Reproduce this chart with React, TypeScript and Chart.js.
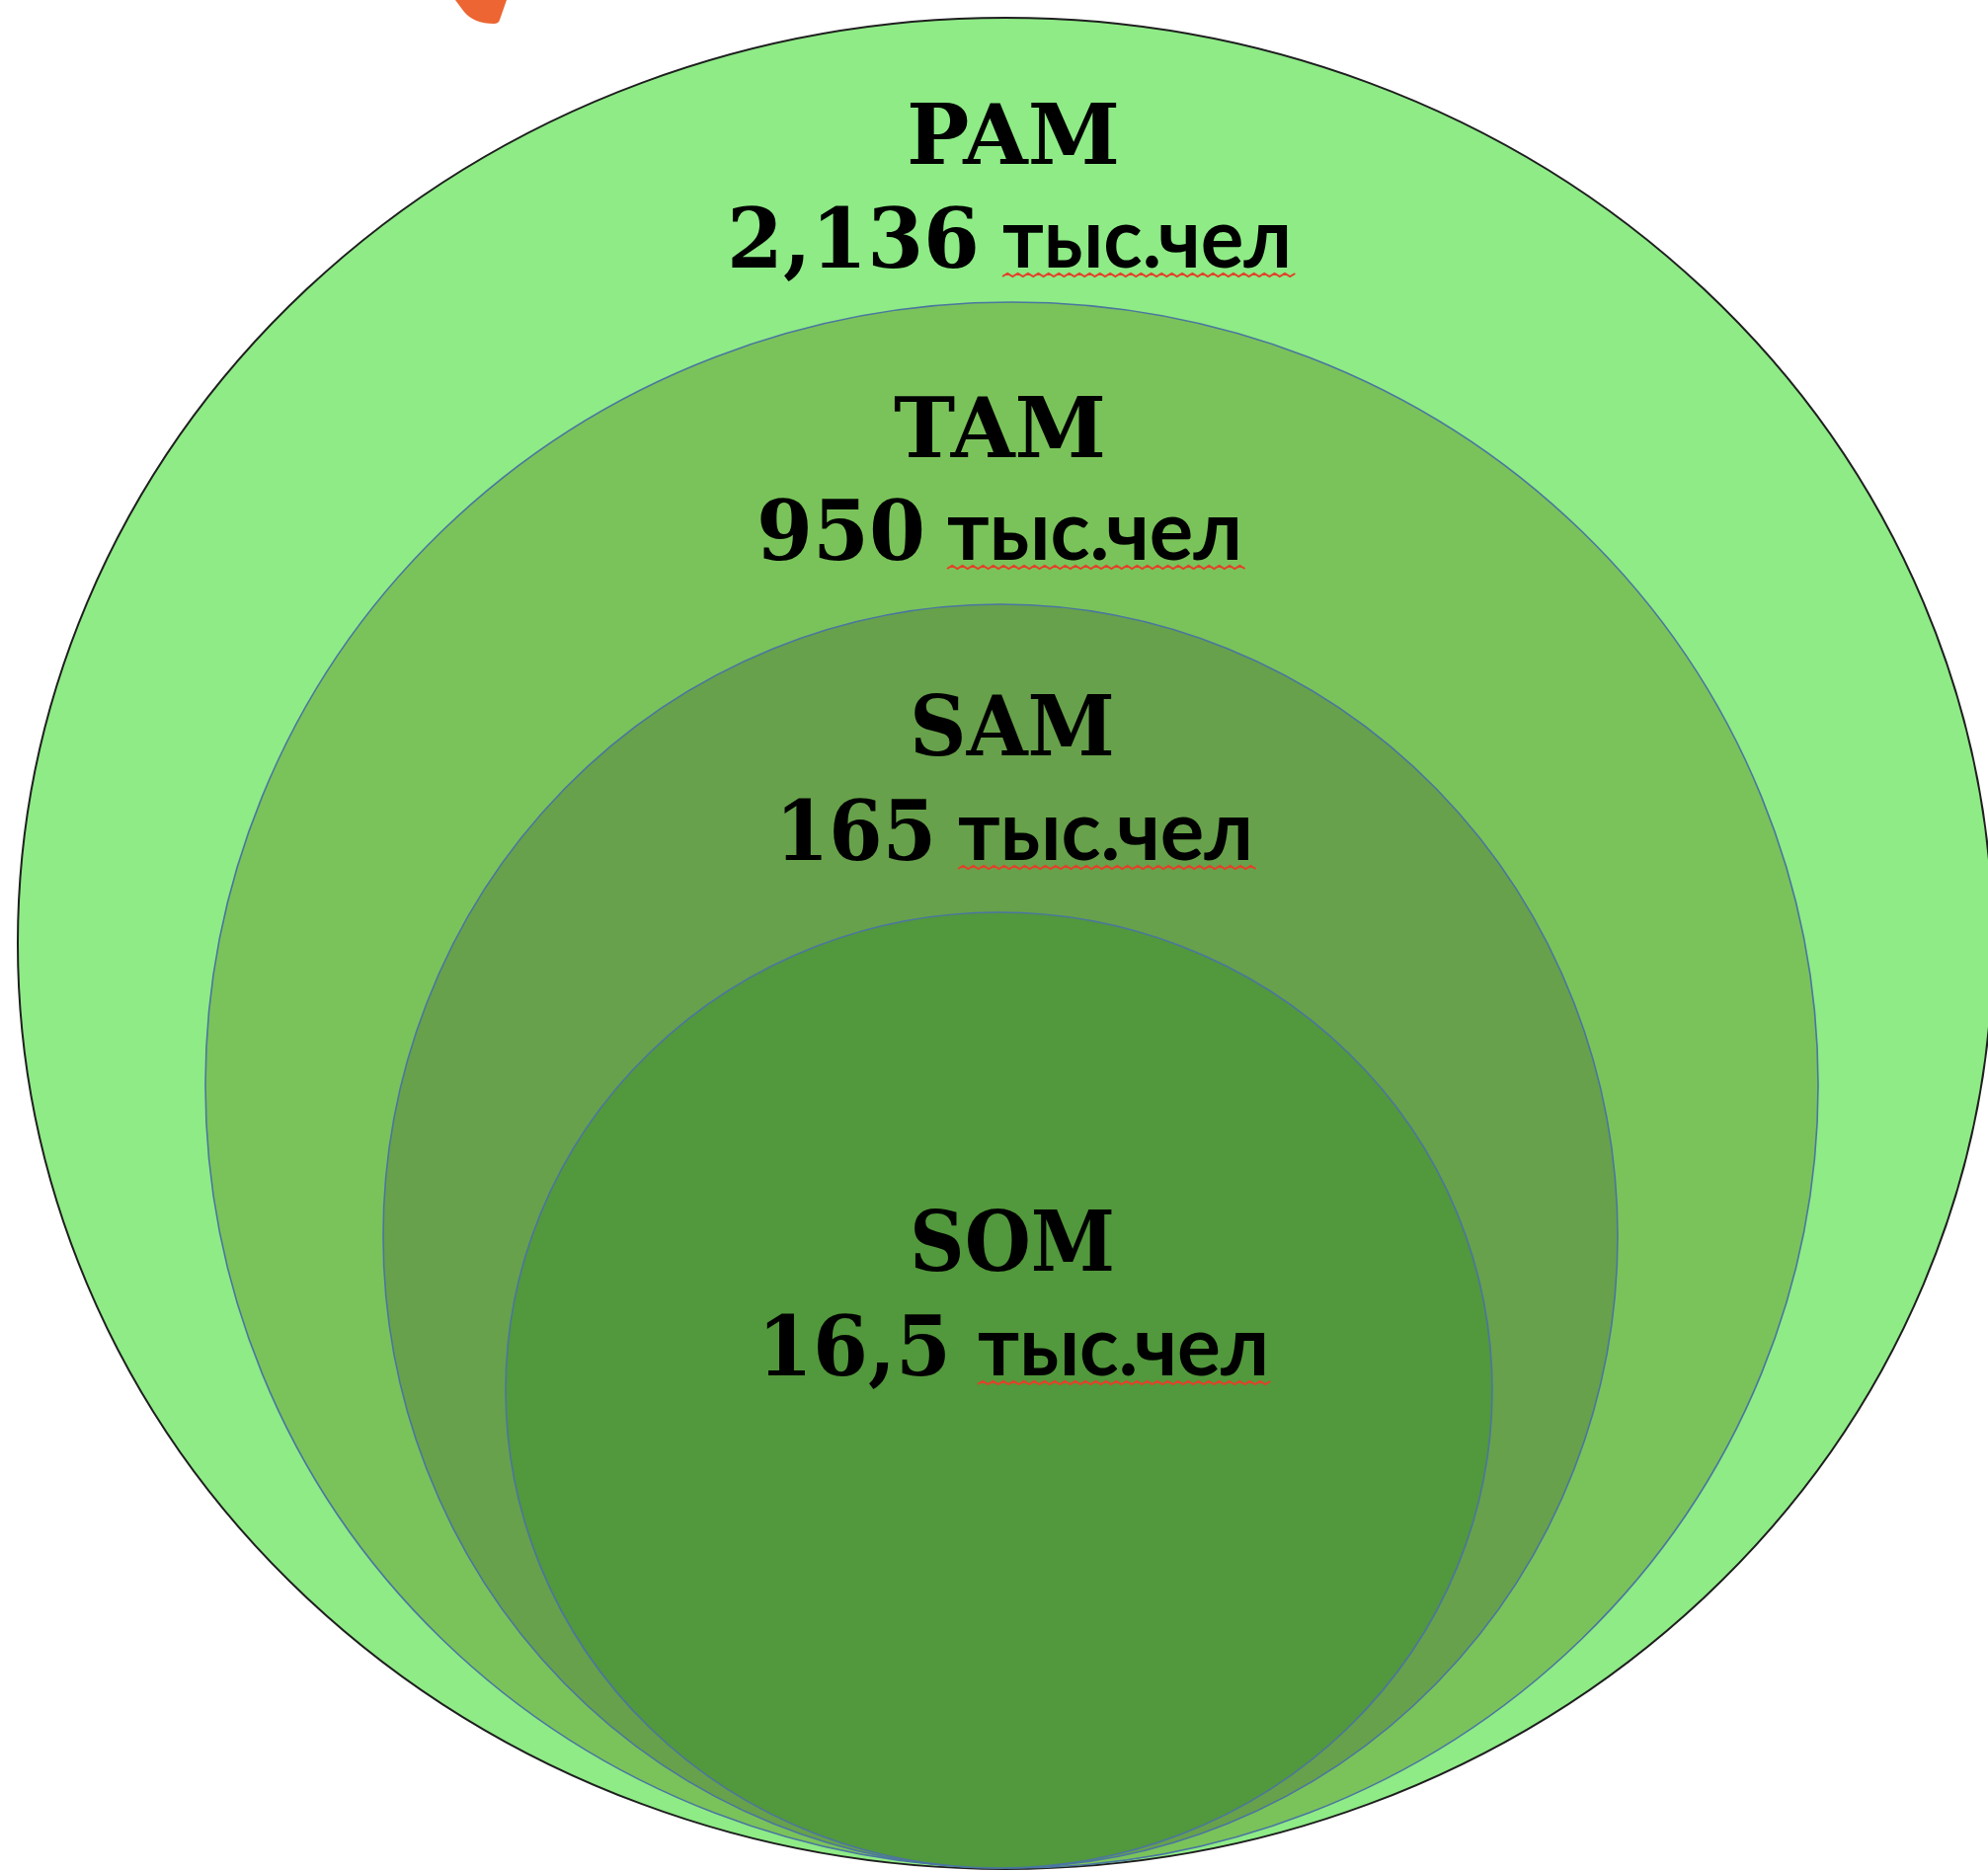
import React, { useEffect, useRef } from "react";
import { Chart, registerables } from "chart.js";

Chart.register(...registerables);

// ---- data ----
const categories = ["PAM", "TAM", "SAM", "SOM"];
const marketValues = ["2,136", "950", "165", "16,5"];
const unitLabel = "тыс.чел";
// nested circle extents, in diagram units (0..2013 across, 0..1895 down)
const circleLeft = [18, 208, 388, 512];
const circleRight = [2018, 1841, 1638, 1511];
const circleTop = [18, 306, 612, 924];
const circleBottom = [1893, 1892, 1892, 1892];

// ---- layout / style (not data) ----
const W = 2013;
const H = 1895;
const fills = ["#8eeb86", "#7ac35a", "#67a14b", "#52983c"];
const strokes = ["#1f1f1f", "#4b76a0", "#4b76a0", "#4b76a0"];
const strokeWidths = [2, 1.6, 1.6, 1.6];
// [left, right, baseline] in diagram units
const titleBoxes = [
  [918, 1134, 166],
  [905, 1120, 463],
  [921, 1129, 765],
  [921, 1129, 1287],
];
const numberBoxes = [
  [736, 992, 271],
  [766, 937, 567],
  [785, 948, 871],
  [767, 963, 1393],
];
const unitBoxes = [
  [1015, 1308, 271],
  [959, 1258, 567],
  [970, 1269, 871],
  [990, 1285, 1393],
];

const serifFont = "bold 84px 'DejaVu Serif'";
const unitFont = "bold 84px Lato";

function drawFitted(
  ctx: CanvasRenderingContext2D,
  text: string,
  font: string,
  x0: number,
  x1: number,
  baseline: number
) {
  ctx.save();
  ctx.font = font;
  ctx.textAlign = "left";
  ctx.textBaseline = "alphabetic";
  const w = ctx.measureText(text).width;
  const sx = (x1 - x0) / w;
  ctx.translate(x0, baseline);
  ctx.scale(sx, 1);
  ctx.fillStyle = "#000";
  ctx.fillText(text, 0, 0);
  ctx.restore();
}

function drawWavy(ctx: CanvasRenderingContext2D, x0: number, x1: number, y: number) {
  ctx.save();
  ctx.strokeStyle = "#e4402a";
  ctx.lineWidth = 2;
  ctx.beginPath();
  const half = 5.2;
  let up = true;
  ctx.moveTo(x0, y);
  for (let x = x0 + half; x <= x1; x += half) {
    ctx.lineTo(x, up ? y - 3 : y);
    up = !up;
  }
  ctx.stroke();
  ctx.restore();
}

const diagramPlugin = {
  id: "nestedMarket",
  beforeDatasetsDraw(chart: any) {
    const ctx: CanvasRenderingContext2D = chart.ctx;
    const xs = chart.scales.x;
    const ys = chart.scales.y;
    // orange decorative fragment at the top
    ctx.save();
    ctx.fillStyle = "#ec6533";
    ctx.beginPath();
    ctx.moveTo(xs.getPixelForValue(461), ys.getPixelForValue(0));
    ctx.lineTo(xs.getPixelForValue(470), ys.getPixelForValue(12));
    ctx.quadraticCurveTo(
      xs.getPixelForValue(480),
      ys.getPixelForValue(24),
      xs.getPixelForValue(500),
      ys.getPixelForValue(24)
    );
    ctx.quadraticCurveTo(
      xs.getPixelForValue(505),
      ys.getPixelForValue(24),
      xs.getPixelForValue(506),
      ys.getPixelForValue(20)
    );
    ctx.lineTo(xs.getPixelForValue(513), ys.getPixelForValue(0));
    ctx.closePath();
    ctx.fill();
    ctx.restore();

    for (let i = 0; i < categories.length; i++) {
      const l = xs.getPixelForValue(circleLeft[i]);
      const r = xs.getPixelForValue(circleRight[i]);
      const t = ys.getPixelForValue(circleTop[i]);
      const b = ys.getPixelForValue(circleBottom[i]);
      ctx.save();
      ctx.beginPath();
      ctx.ellipse((l + r) / 2, (t + b) / 2, Math.abs(r - l) / 2, Math.abs(b - t) / 2, 0, 0, Math.PI * 2);
      ctx.fillStyle = fills[i];
      ctx.fill();
      ctx.lineWidth = strokeWidths[i];
      ctx.strokeStyle = strokes[i];
      ctx.stroke();
      ctx.restore();
    }
  },
  afterDatasetsDraw(chart: any) {
    const ctx: CanvasRenderingContext2D = chart.ctx;
    const xs = chart.scales.x;
    const ys = chart.scales.y;
    for (let i = 0; i < categories.length; i++) {
      const tb = titleBoxes[i];
      drawFitted(ctx, categories[i], serifFont, xs.getPixelForValue(tb[0]), xs.getPixelForValue(tb[1]), ys.getPixelForValue(tb[2]));
      const nb = numberBoxes[i];
      drawFitted(ctx, marketValues[i], serifFont, xs.getPixelForValue(nb[0]), xs.getPixelForValue(nb[1]), ys.getPixelForValue(nb[2]));
      const ub = unitBoxes[i];
      const ux0 = xs.getPixelForValue(ub[0]);
      const ux1 = xs.getPixelForValue(ub[1]);
      const uy = ys.getPixelForValue(ub[2]);
      drawFitted(ctx, unitLabel, unitFont, ux0, ux1, uy);
      drawWavy(ctx, ux0, ux1 + 4, uy + 9);
    }
  },
};

export default function App() {
  const ref = useRef<HTMLCanvasElement | null>(null);
  useEffect(() => {
    if (!ref.current) return;
    const chart = new Chart(ref.current, {
      type: "scatter",
      data: {
        datasets: [
          {
            label: "markets",
            data: categories.map((_, i) => ({
              x: (circleLeft[i] + circleRight[i]) / 2,
              y: (circleTop[i] + circleBottom[i]) / 2,
            })),
            pointRadius: 0,
            pointHoverRadius: 0,
          },
        ],
      },
      options: {
        animation: false,
        responsive: false,
        devicePixelRatio: 1,
        layout: { padding: 0 },
        events: [],
        plugins: {
          legend: { display: false },
          tooltip: { enabled: false },
          title: { display: false },
        },
        scales: {
          x: { type: "linear", min: 0, max: W, display: false },
          y: { type: "linear", min: 0, max: H, reverse: true, display: false },
        },
      },
      plugins: [diagramPlugin],
    });
    return () => chart.destroy();
  }, []);
  return (
    <div style={{ position: "absolute", left: 0, top: 0, width: W, height: H, background: "#fff" }}>
      <canvas ref={ref} width={W} height={H} style={{ width: W, height: H, display: "block" }} />
    </div>
  );
}
